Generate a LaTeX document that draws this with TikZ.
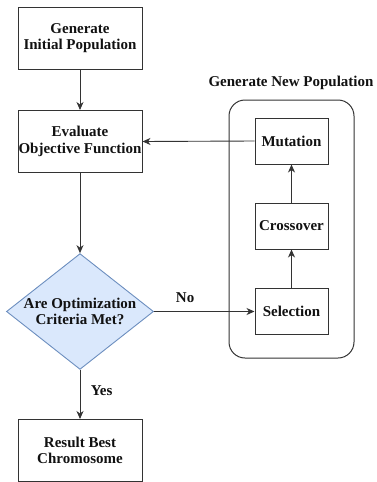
\documentclass[tikz,border=0pt]{standalone}
\usepackage{fontspec}
\setmainfont{Liberation Serif}
\usetikzlibrary{shapes.geometric,arrows.meta}
\definecolor{dfill}{HTML}{DAE8FC}
\definecolor{dline}{HTML}{6C8EBF}
\definecolor{ink}{HTML}{111111}
\definecolor{edge}{HTML}{333333}
\begin{document}
\begin{tikzpicture}[x=1pt,y=-1pt,
  every node/.style={font=\fontsize{15}{16.5}\selectfont\bfseries, text=ink},
  pbox/.style={draw=edge, line width=1pt, minimum width=124pt, minimum height=62pt, align=center, inner sep=0pt},
  sbox/.style={draw=edge, line width=1pt, minimum width=73pt, minimum height=46pt, align=center, inner sep=0pt},
  conn/.style={draw=edge, line width=0.9pt, -{Stealth[length=8pt,width=7pt,inset=2.5pt]}}]
\useasboundingbox (0,0) rectangle (377,482);
\draw[edge, line width=1pt, rounded corners=16pt] (229,100) rectangle (354,358);
\node (title) at (291,83) {Generate New Population};
\node[pbox] (init) at (80,38) {Generate\\Initial Population};
\node[pbox] (eval) at (80,141.5) {Evaluate\\Objective Function};
\node[diamond, draw=dline, fill=dfill, line width=0.9pt, minimum width=144pt, minimum height=113pt, inner sep=0pt, align=center, aspect=1.27] (crit) at (80,311.5) {Are Optimization\\Criteria Met?};
\node[pbox] (res) at (80,450.5) {Result Best\\Chromosome};
\node[sbox] (mut) at (291.5,141) {Mutation};
\node[sbox] (cross) at (291.5,226) {Crossover};
\node[sbox] (sel) at (291.5,311.5) {Selection};
\draw[conn] (init) -- (eval);
\draw[conn] (eval) -- (crit);
\draw[conn] (crit) -- node[pos=0.42, right=7pt] {Yes} (res);
\draw[conn] (crit.east) -- node[pos=0.31, above=5pt] {No} (sel.west);
\draw[conn] (sel) -- (cross);
\draw[conn] (cross) -- (mut);
\draw[conn] (mut.west) -- (eval.east);
\end{tikzpicture}
\end{document}
